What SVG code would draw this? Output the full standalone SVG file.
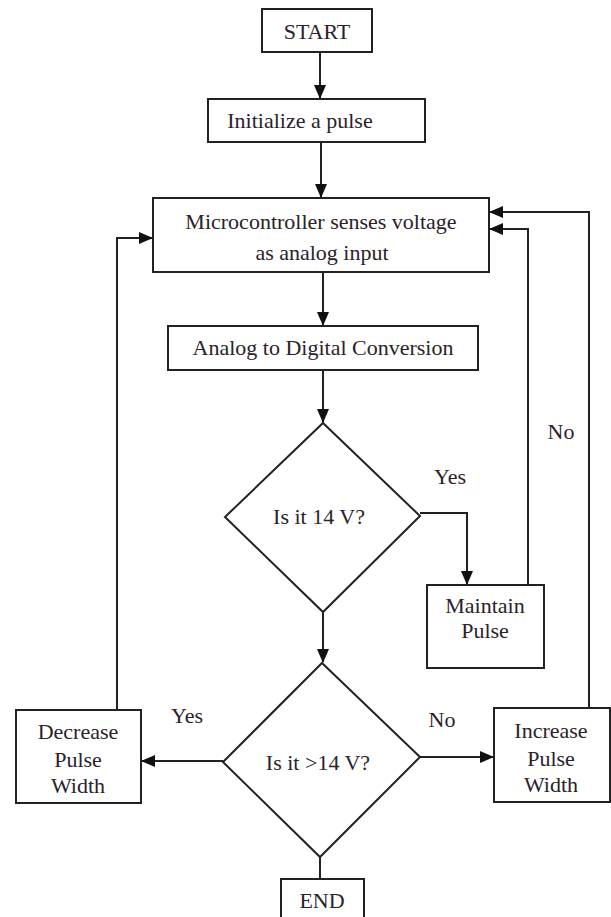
<svg xmlns="http://www.w3.org/2000/svg" width="611" height="917" viewBox="0 0 611 917">
<style>
.box{fill:#fff;stroke:#222;stroke-width:2}
.t{font-family:'Times New Roman','Liberation Serif','DejaVu Serif',serif;font-size:22px;fill:#2a222a;text-anchor:middle}
.c{fill:none;stroke:#222;stroke-width:2}
</style>
<defs>
<marker id="ah" markerUnits="userSpaceOnUse" markerWidth="14" markerHeight="12" refX="13" refY="6" orient="auto">
<path d="M0,0 L14,6 L0,12 Z" fill="#111"/>
</marker>
</defs>
<rect width="611" height="917" fill="#fff"/>
<g id="connectors">
<line class="c" x1="320" y1="52" x2="320" y2="98" marker-end="url(#ah)"/>
<line class="c" x1="321" y1="142" x2="321" y2="197" marker-end="url(#ah)"/>
<line class="c" x1="323" y1="272" x2="323" y2="325" marker-end="url(#ah)"/>
<line class="c" x1="323" y1="370" x2="323" y2="422" marker-end="url(#ah)"/>
<polyline class="c" points="420,513 467,513 467,584" marker-end="url(#ah)"/>
<polyline class="c" points="528,585 528,229 490,229" marker-end="url(#ah)"/>
<line class="c" x1="323" y1="612" x2="323" y2="662" marker-end="url(#ah)"/>
<line class="c" x1="223" y1="761" x2="142" y2="761" marker-end="url(#ah)"/>
<line class="c" x1="420" y1="757" x2="493" y2="757" marker-end="url(#ah)"/>
<polyline class="c" points="117,710 117,238 152,238" marker-end="url(#ah)"/>
<polyline class="c" points="589,708 589,212 490,212" marker-end="url(#ah)"/>
<line class="c" x1="320" y1="857" x2="320" y2="879"/>
</g>
<g id="start"><rect class="box" x="262" y="9" width="110" height="43"/><text class="t" x="317" y="39">START</text></g>
<g id="init"><rect class="box" x="208" y="99" width="217" height="43"/><text class="t" x="300" y="128">Initialize a pulse</text></g>
<g id="micro"><rect class="box" x="153" y="198" width="336" height="74"/><text class="t" x="321" y="229">Microcontroller senses voltage</text><text class="t" x="322" y="260">as analog input</text></g>
<g id="adc"><rect class="box" x="168" y="326" width="310" height="44"/><text class="t" x="323" y="355">Analog to Digital  Conversion</text></g>
<g id="d1"><polygon class="box" points="323,423 420,516 323,612 225,517"/><text class="t" x="319" y="524">Is it 14 V?</text></g>
<g id="maintain"><rect class="box" x="427" y="585" width="117" height="83"/><text class="t" x="485" y="613">Maintain</text><text class="t" x="485" y="638">Pulse</text></g>
<g id="d2"><polygon class="box" points="322,663 420,757 320,857 223,762"/><text class="t" x="318" y="770">Is it &gt;14 V?</text></g>
<g id="decrease"><rect class="box" x="16" y="710" width="125" height="93"/><text class="t" x="78" y="739">Decrease</text><text class="t" x="78" y="767">Pulse</text><text class="t" x="78" y="793">Width</text></g>
<g id="increase"><rect class="box" x="494" y="708" width="116" height="94"/><text class="t" x="551" y="738">Increase</text><text class="t" x="551" y="766">Pulse</text><text class="t" x="551" y="792">Width</text></g>
<g id="end"><rect class="box" x="281" y="879" width="83" height="44"/><text class="t" x="322" y="908">END</text></g>
<g id="labels">
<text class="t" x="450" y="484">Yes</text>
<text class="t" x="187" y="723">Yes</text>
<text class="t" x="442" y="727">No</text>
<text class="t" x="561" y="439">No</text>
</g>
</svg>
